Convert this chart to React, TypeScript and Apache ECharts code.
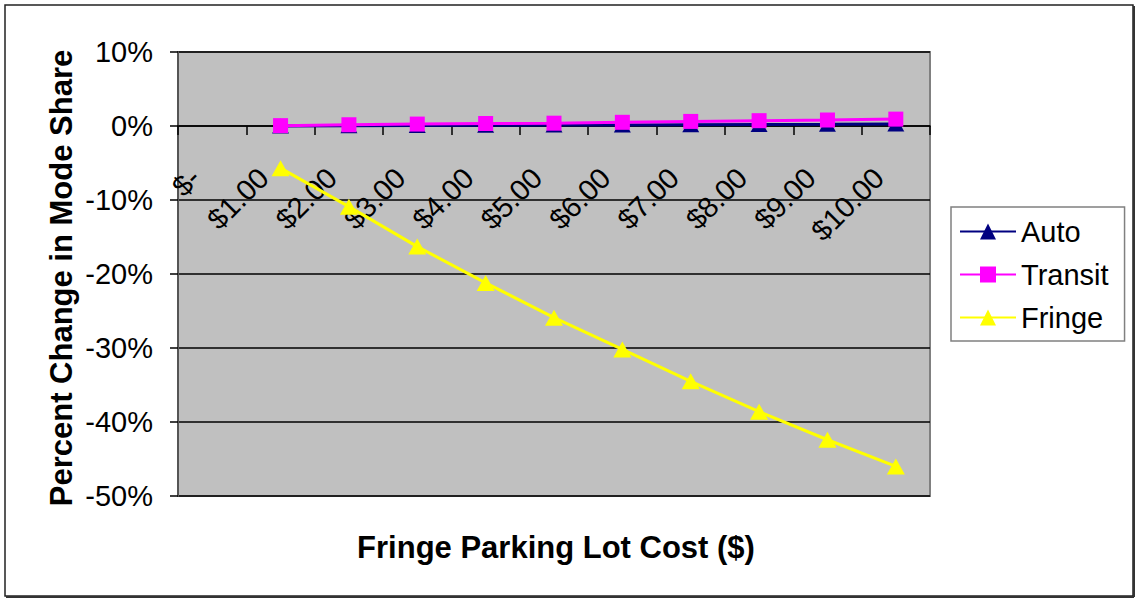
import React, { useEffect, useRef } from "react";
import * as echarts from "echarts";

// Fringe parking lot cost categories (x axis)
const costLabels = [
  "$-", "$1.00", "$2.00", "$3.00", "$4.00", "$5.00",
  "$6.00", "$7.00", "$8.00", "$9.00", "$10.00",
];

// Percent change in mode share for each cost level (no value at $-)
const autoChange = [null, 0.01, 0.04, 0.06, 0.09, 0.12, 0.15, 0.18, 0.2, 0.23, 0.27];
const transitChange = [null, 0.05, 0.17, 0.26, 0.34, 0.38, 0.5, 0.62, 0.72, 0.81, 0.93];
const fringeChange = [null, -5.7, -10.9, -16.3, -21.2, -25.9, -30.2, -34.5, -38.6, -42.4, -46.0];

// Y axis range (percent)
const yMin = -50;
const yMax = 10;
const yStep = 10;

const FONT = "'Liberation Sans', Arial, sans-serif";

// plot area geometry
const GRID_TOP = 52;
const GRID_HEIGHT = 444;
// distance from the bottom of the plot up to the 0% line
const ZERO_OFFSET = (GRID_HEIGHT * (0 - yMin)) / (yMax - yMin);

export default function App() {
  const ref = useRef<HTMLDivElement>(null);

  useEffect(() => {
    if (!ref.current) return;
    const chart = echarts.init(ref.current, null, { renderer: "svg" });

    chart.setOption({
      animation: false,
      backgroundColor: "#ffffff",
      textStyle: { fontFamily: FONT },
      grid: {
        left: 178,
        top: GRID_TOP,
        width: 752,
        height: GRID_HEIGHT,
        outerBoundsMode: "none",
        containLabel: false,
        show: true,
        backgroundColor: "#C0C0C0",
        borderColor: "#808080",
        borderWidth: 2,
      },
      legend: {
        orient: "vertical",
        left: 951,
        top: 207,
        padding: [10, 16, 9, 8],
        itemWidth: 56,
        itemHeight: 20,
        itemGap: 14,
        borderColor: "#808080",
        borderWidth: 1.5,
        backgroundColor: "#ffffff",
        textStyle: { fontSize: 29, color: "#000", fontFamily: FONT, lineHeight: 29 },
        data: ["Auto", "Transit", "Fringe"],
      },
      xAxis: {
        type: "category",
        data: costLabels,
        boundaryGap: true,
        position: "bottom",
        offset: -ZERO_OFFSET,
        axisLine: { onZero: false, lineStyle: { color: "#000", width: 1.5 } },
        axisTick: { show: true, length: 9, inside: false, lineStyle: { color: "#000", width: 1.5 } },
        axisLabel: {
          rotate: 45,
          fontSize: 29,
          color: "#000",
          fontFamily: FONT,
          margin: 30,
          padding: [0, 24, 0, 0],
          interval: 0,
        },
        splitLine: { show: false },
      },
      yAxis: {
        type: "value",
        min: yMin,
        max: yMax,
        interval: yStep,
        axisLine: { show: true, lineStyle: { color: "#555", width: 2 } },
        axisTick: { show: true, length: 8, lineStyle: { color: "#000", width: 1.5 } },
        axisLabel: {
          fontSize: 29,
          color: "#000",
          fontFamily: FONT,
          margin: 25,
          formatter: (v: number) => `${v}%`,
        },
        splitLine: { show: true, lineStyle: { color: "#000", width: 1.5 } },
      },
      series: [
        {
          name: "Auto",
          type: "line",
          data: autoChange,
          symbol: "triangle",
          symbolSize: [17, 15],
          showAllSymbol: true,
          lineStyle: { color: "#000080", width: 3 },
          itemStyle: { color: "#000080" },
        },
        {
          name: "Transit",
          type: "line",
          data: transitChange,
          symbol: "rect",
          symbolSize: 15,
          showAllSymbol: true,
          lineStyle: { color: "#FF00FF", width: 3 },
          itemStyle: { color: "#FF00FF" },
        },
        {
          name: "Fringe",
          type: "line",
          data: fringeChange,
          symbol: "triangle",
          symbolSize: [18, 16],
          showAllSymbol: true,
          lineStyle: { color: "#FFFF00", width: 3 },
          itemStyle: { color: "#FFFF00" },
        },
      ],
      graphic: [
        // chart frame
        {
          type: "rect",
          shape: { x: 5, y: 5, width: 1128, height: 591 },
          style: { fill: "none", stroke: "#222", lineWidth: 1.5 },
          silent: true,
          z: 10,
        },
        {
          type: "line",
          shape: { x1: 1134, y1: 6, x2: 1134, y2: 597 },
          style: { stroke: "#333", lineWidth: 2 },
          silent: true,
          z: 10,
        },
        {
          type: "line",
          shape: { x1: 6, y1: 597, x2: 1134, y2: 597 },
          style: { stroke: "#333", lineWidth: 2 },
          silent: true,
          z: 10,
        },
        // axis titles
        {
          type: "text",
          x: 556,
          y: 547,
          style: {
            text: "Fringe Parking Lot Cost ($)",
            font: `bold 31px ${FONT}`,
            fill: "#000",
            align: "center",
            verticalAlign: "middle",
          },
        },
        {
          type: "text",
          x: 61,
          y: 278,
          rotation: Math.PI / 2,
          style: {
            text: "Percent Change in Mode Share",
            font: `bold 31px ${FONT}`,
            fill: "#000",
            align: "center",
            verticalAlign: "middle",
          },
        },
      ],
    });

    return () => chart.dispose();
  }, []);

  return (
    <div
      ref={ref}
      style={{ position: "fixed", left: 0, top: 0, width: 1136, height: 602 }}
    />
  );
}
